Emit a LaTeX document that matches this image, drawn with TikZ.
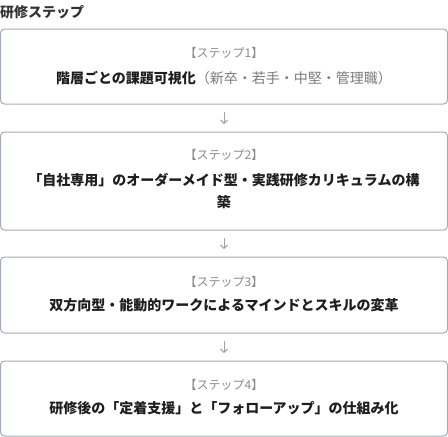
\documentclass[tikz,border=0pt]{standalone}
\usepackage{fontspec}
\setmainfont{Noto Sans CJK JP}
\usetikzlibrary{arrows.meta}
\definecolor{framegray}{HTML}{A4ABB8}
\definecolor{titlegray}{HTML}{333333}
\definecolor{labelgray}{HTML}{8A8A8A}
\definecolor{parengray}{HTML}{7A7A7A}
\definecolor{maintext}{HTML}{1E1E1E}
\definecolor{arrowgray}{HTML}{9EA3AB}
\tikzset{
  stepbox/.style={draw=framegray, line width=1pt, rounded corners=4pt, minimum width=447pt, inner sep=0pt},
  steplabel/.style={text=labelgray, font=\fontsize{12}{14}\selectfont, inner sep=0pt},
  steptext/.style={text=maintext, font=\bfseries\fontsize{14}{22}\selectfont, align=center, inner sep=0pt},
  flow/.style={draw=arrowgray, line width=0.9pt, -{Straight Barb[length=3.5pt,width=7pt]}, shorten <=7.5pt, shorten >=7.5pt}
}
\begin{document}
\begin{tikzpicture}[x=1pt, y=-1pt]
% tikz code here
  \useasboundingbox (0,0) rectangle (448,437);
  \node[anchor=west, inner sep=0pt, text=titlegray, font=\bfseries\fontsize{14}{16}\selectfont] (title) at (0,12) {研修ステップ};
  \node[stepbox, minimum height=75pt] (s1) at (224,66.5) {};
  \node[stepbox, minimum height=98pt] (s2) at (224,181)  {};
  \node[stepbox, minimum height=76pt] (s3) at (224,295)  {};
  \node[stepbox, minimum height=75pt] (s4) at (224,398.5) {};
  \node[steplabel] (l1) at (224,53)  {【ステップ1】};
  \node[steplabel] (l2) at (224,155) {【ステップ2】};
  \node[steplabel] (l3) at (224,282) {【ステップ3】};
  \node[steplabel] (l4) at (224,385) {【ステップ4】};
  \node[steptext] (t1) at (224,78)  {階層ごとの課題可視化{\mdseries\color{parengray}（新卒・若手・中堅・管理職）}};
  \node[steptext] (t2) at (224,191) {「自社専用」のオーダーメイド型・実践研修カリキュラムの構\\築};
  \node[steptext] (t3) at (224,305) {双方向型・能動的ワークによるマインドとスキルの変革};
  \node[steptext] (t4) at (224,408) {研修後の「定着支援」と「フォローアップ」の仕組み化};
  \draw[flow] (s1) -- (s2);
  \draw[flow] (s2) -- (s3);
  \draw[flow] (s3) -- (s4);
\end{tikzpicture}
\end{document}
